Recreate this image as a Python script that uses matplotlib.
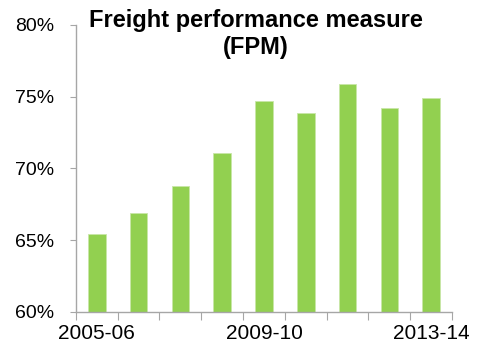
import numpy as np
import matplotlib
matplotlib.use("Agg")
import matplotlib.pyplot as plt
from matplotlib.ticker import FuncFormatter

plt.rcParams.update({"font.family": ["Liberation Sans", "DejaVu Sans"]})

years = ["2005-06", "2006-07", "2007-08", "2008-09", "2009-10",
         "2010-11", "2011-12", "2012-13", "2013-14"]
fpm = [65.4, 66.9, 68.8, 71.1, 74.7, 73.9, 75.9, 74.2, 74.9]
shown_labels = {"2005-06", "2009-10", "2013-14"}

fig = plt.figure(figsize=(4.83, 3.47), dpi=100)
ax = fig.add_axes([0.157, 0.101, 0.779, 0.827])

x = np.arange(len(years))
ax.bar(x, fpm, width=0.42, color="#92D050", edgecolor="#c8e6a8", linewidth=0.6)

ax.set_ylim(60, 80)
ax.set_xlim(-0.5, len(years) - 0.5)
ax.set_yticks([60, 65, 70, 75, 80])
ax.yaxis.set_major_formatter(FuncFormatter(lambda v, p: f"{v:.0f}%"))

# boundary ticks, labels under the bars
ax.set_xticks(np.arange(len(years) + 1) - 0.5)
ax.set_xticklabels([])
ax.set_xticks(x, minor=True)
ax.set_xticklabels([y if y in shown_labels else "" for y in years], minor=True)

grey = "#a6a6a6"
for side in ["top", "right"]:
    ax.spines[side].set_visible(False)
for side in ["left", "bottom"]:
    ax.spines[side].set_color(grey)
    ax.spines[side].set_linewidth(1.0)
ax.tick_params(axis="y", which="major", direction="out", length=4.3, color=grey,
               labelsize=14, pad=11)
ax.tick_params(axis="x", which="major", direction="out", length=6, color=grey)
ax.tick_params(axis="x", which="minor", length=0, labelsize=15, pad=9)

ax.text(0.478, 0.969, "Freight performance measure\n(FPM)", transform=ax.transAxes,
        ha="center", va="center", fontsize=17, fontweight="bold",
        linespacing=1.2)

fig.savefig("out.png", dpi=100)
